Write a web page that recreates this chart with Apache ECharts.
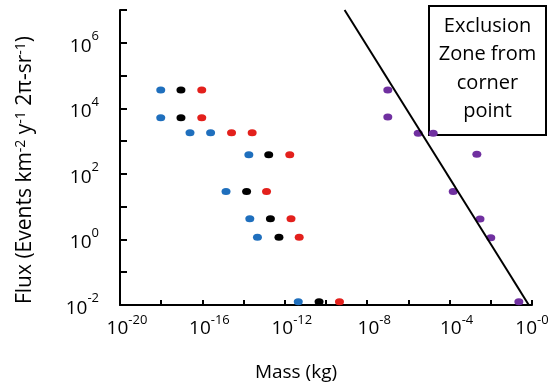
<!DOCTYPE html>
<html>
<head>
<meta charset="utf-8">
<script src="https://cdn.jsdelivr.net/npm/echarts@6/dist/echarts.min.js"></script>
<style>
  html, body { margin: 0; padding: 0; background: #fff; }
  #chart { width: 556px; height: 387px; }
</style>
</head>
<body>
<div id="chart"></div>
<script>
// Mass (kg) and flux (events km^-2 y^-1 2π-sr^-1) for each group of points
const blueMass  = [9.5e-19, 9.5e-19, 2.5e-17, 2.5e-16, 1.8e-14, 1.4e-15, 2.0e-14, 4.7e-14, 4.5e-12];
const blueFlux  = [3.6e4,   5.2e3,   1.8e3,   1.8e3,   385,     29,      4.3,     1.16,    0.0126];

const blackMass = [9.1e-18, 9.1e-18, 1.66e-13, 1.4e-14, 2.0e-13, 5.2e-13, 4.6e-11];
const blackFlux = [3.6e4,   5.2e3,   385,      29,      4.3,     1.16,    0.0126];

const redMass   = [9.3e-17, 9.3e-17, 2.6e-15, 2.6e-14, 1.74e-12, 1.3e-13, 2.0e-12, 5.0e-12, 4.5e-10];
const redFlux   = [3.6e4,   5.2e3,   1.8e3,   1.8e3,   385,      29,      4.3,     1.16,    0.0126];

const purpleMass = [1.0e-7, 1.0e-7, 3.0e-6, 1.6e-5, 2.1e-3, 1.5e-4, 3.0e-3, 1.0e-2, 0.23];
const purpleFlux = [3.6e4,  5.4e3,  1.74e3, 1.74e3, 400,    29,     4.2,    1.12,   0.0126];

// Exclusion boundary drawn from the corner point
const exclusionMass = [8e-10, 0.7];
const exclusionFlux = [1e7,   1e-2];

// Axis ranges (powers of ten) and which exponents carry a label
const massRange = [1e-20, 1];
const fluxRange = [1e-2, 1e7];
const massLabelExps = [-20, -16, -12, -8, -4, 0];
const fluxLabelExps = [-2, 0, 2, 4, 6];

const boxLines = ['Exclusion', 'Zone from', 'corner', 'point'];

const zip = (xs, ys) => xs.map((x, i) => [x, ys[i]]);
const FONT = '"Open Sans", "Liberation Sans", sans-serif';

function expOf(v) { return Math.round(Math.log10(v)); }

const chart = echarts.init(document.getElementById('chart'), null, { renderer: 'canvas' });

function dots(name, color, xs, ys) {
  return {
    name, type: 'scatter',
    data: zip(xs, ys),
    symbol: 'circle',
    symbolSize: [9, 7],
    itemStyle: { color, opacity: 1 },
    clip: false,
    z: 3
  };
}

chart.setOption({
  animation: false,
  backgroundColor: '#ffffff',
  textStyle: { fontFamily: FONT },
  grid: { left: 120, right: 24, top: 10, bottom: 82, containLabel: false },
  xAxis: {
    type: 'log', logBase: 10,
    min: massRange[0], max: massRange[1], interval: 2,
    name: 'Mass (kg)', nameLocation: 'middle', nameGap: 58,
    nameTextStyle: { fontSize: 19, color: '#000', fontFamily: FONT, padding: [0, 60, 0, 0] },
    axisLine: { show: true, lineStyle: { color: '#000', width: 2 } },
    axisTick: { show: true, inside: true, length: 5, lineStyle: { color: '#000', width: 2 } },
    splitLine: { show: false },
    minorTick: { show: false },
    axisLabel: {
      show: true, margin: 9, color: '#000', hideOverlap: false,
      formatter: v => {
        const e = expOf(v);
        if (massLabelExps.indexOf(e) < 0) return '';
        return e === 0 ? '{b|10}{s|-0}' : '{g|}{b|10}{s|' + e + '}';
      },
      rich: {
        g: { width: 14 },
        b: { fontSize: 19, fontFamily: FONT, color: '#000', lineHeight: 24, verticalAlign: 'bottom' },
        s: { fontSize: 13, fontFamily: FONT, color: '#000', verticalAlign: 'top' }
      }
    }
  },
  yAxis: {
    type: 'log', logBase: 10,
    min: fluxRange[0], max: fluxRange[1], interval: 1,
    axisLine: { show: true, lineStyle: { color: '#000', width: 2 } },
    axisTick: { show: true, inside: true, length: 7, lineStyle: { color: '#000', width: 2 } },
    splitLine: { show: false },
    minorTick: { show: false },
    axisLabel: {
      show: true, margin: 21, color: '#000', hideOverlap: false,
      formatter: v => {
        const e = expOf(v);
        if (fluxLabelExps.indexOf(e) < 0) return '';
        return '{b|10}{s|' + e + '}';
      },
      rich: {
        b: { fontSize: 19, fontFamily: FONT, color: '#000', lineHeight: 26, verticalAlign: 'bottom' },
        s: { fontSize: 13, fontFamily: FONT, color: '#000', verticalAlign: 'top' }
      }
    }
  },
  series: [
    dots('blue', '#1f6fbd', blueMass, blueFlux),
    dots('black', '#000000', blackMass, blackFlux),
    dots('red', '#e3201c', redMass, redFlux),
    dots('purple', '#7030a0', purpleMass, purpleFlux),
    {
      name: 'exclusion', type: 'line',
      data: zip(exclusionMass, exclusionFlux),
      showSymbol: false, symbol: 'none',
      lineStyle: { color: '#000', width: 2 },
      z: 4
    }
  ],
  graphic: [
    {
      type: 'text', x: 25, y: 170, rotation: Math.PI / 2,
      style: {
        text: 'Flux (Events km{s|-2} y{s|-1} 2π-sr{s|-1})',
        fontSize: 21, fontFamily: FONT, fill: '#000',
        align: 'center', verticalAlign: 'middle',
        rich: {
          s: { fontSize: 14, fontFamily: FONT, fill: '#000', verticalAlign: 'top' }
        }
      }
    },
    {
      type: 'group', x: 429, y: 6,
      children: [
        {
          type: 'rect',
          shape: { x: 0, y: 0, width: 117, height: 129 },
          style: { fill: '#fff', stroke: '#000', lineWidth: 2 }
        },
        {
          type: 'text', x: 58.5, y: 63,
          style: {
            text: boxLines.join('\n'),
            fontSize: 20, fontFamily: FONT, fill: '#000',
            lineHeight: 28.5, align: 'center', verticalAlign: 'middle'
          }
        }
      ]
    }
  ]
});
</script>
</body>
</html>
